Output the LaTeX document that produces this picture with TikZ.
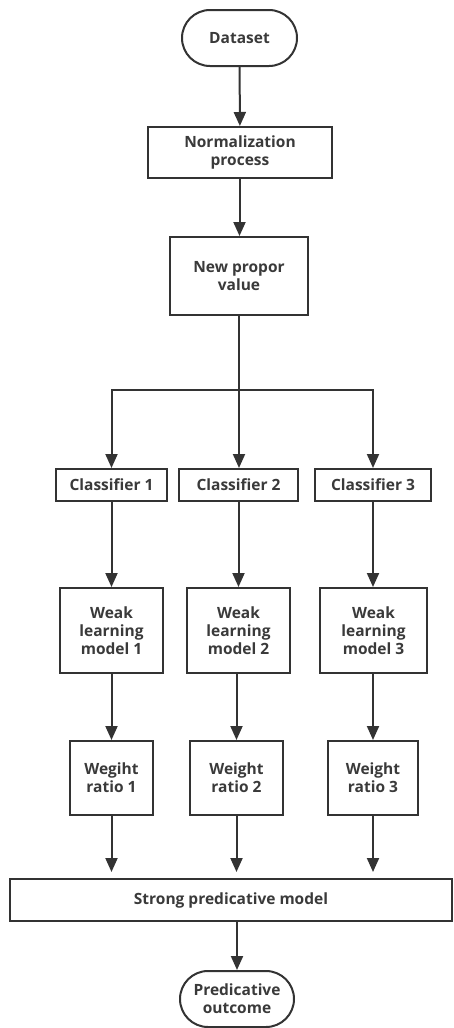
\documentclass[tikz,border=0pt]{standalone}
\usepackage{fontspec}
\setmainfont{Open Sans}[BoldFont={Open Sans Bold}]
\usetikzlibrary{arrows.meta}
\definecolor{ink}{HTML}{333333}
\definecolor{txt}{HTML}{3A3A3A}
\begin{document}
\begin{tikzpicture}[x=1pt,y=-1pt,
  box/.style={draw=ink,line width=2pt,fill=white,align=center,inner sep=0pt,
    font=\bfseries\fontsize{15.5}{18}\selectfont,text=txt},
  term/.style={box,rounded corners=28pt},
  arr/.style={draw=ink,line width=2pt,-{Triangle[length=14pt,width=12pt]}}]
\useasboundingbox (0,0) rectangle (453,1028);
\node[term,minimum width=115pt,minimum height=56pt] (ds) at (239.5,38) {Dataset};
\node[box,minimum width=184pt,minimum height=51pt] (norm) at (240,152.5) {Normalization\\process};
\node[box,minimum width=138pt,minimum height=78pt] (npv) at (239,276) {New propor\\value};
\node[box,minimum width=111pt,minimum height=32pt] (c1) at (111.5,485) {Classifier 1};
\node[box,minimum width=119pt,minimum height=32pt] (c2) at (238.5,485) {Classifier 2};
\node[box,minimum width=116pt,minimum height=32pt] (c3) at (373,485) {Classifier 3};
\node[box,minimum width=103pt,minimum height=85pt] (wl1) at (111.5,630.5) {Weak\\learning\\model 1};
\node[box,minimum width=103pt,minimum height=85pt] (wl2) at (238.5,630.5) {Weak\\learning\\model 2};
\node[box,minimum width=107pt,minimum height=85pt] (wl3) at (373.5,630.5) {Weak\\learning\\model 3};
\node[box,minimum width=83pt,minimum height=74pt] (wr1) at (111.5,778) {Wegiht\\ratio 1};
\node[box,minimum width=93pt,minimum height=74pt] (wr2) at (236.5,778) {Weight\\ratio 2};
\node[box,minimum width=90pt,minimum height=74pt] (wr3) at (373,778) {Weight\\ratio 3};
\node[box,minimum width=442pt,minimum height=42pt] (strong) at (231,900) {Strong predicative model};
\node[term,minimum width=114pt,minimum height=56pt] (out) at (237,999) {Predicative\\outcome};
\coordinate (br) at (239,390);
\draw[arr] (ds) -- (norm);
\draw[arr] (norm.south -| ds.south) -- (npv.north -| ds.south);
\draw[arr] (npv.south) -- (c2.north -| npv.south);
\draw[arr] (br) -| (c1.north);
\draw[arr] (br) -| (c3.north);
\draw[arr] (c1) -- (wl1);
\draw[arr] (c2) -- (wl2);
\draw[arr] (c3.south) -- (c3.south |- wl3.north);
\draw[arr] (wl1) -- (wr1);
\draw[arr] (wl2.south -| wr2.north) -- (wr2.north);
\draw[arr] (wl3.south -| wr3.north) -- (wr3.north);
\draw[arr,shorten >=6pt] (wr1.south) -- (wr1.south |- strong.north);
\draw[arr,shorten >=6pt] (wr2.south) -- (wr2.south |- strong.north);
\draw[arr,shorten >=6pt] (wr3.south) -- (wr3.south |- strong.north);
\draw[arr] (strong.south -| out.north) -- (out.north);
\end{tikzpicture}
\end{document}
